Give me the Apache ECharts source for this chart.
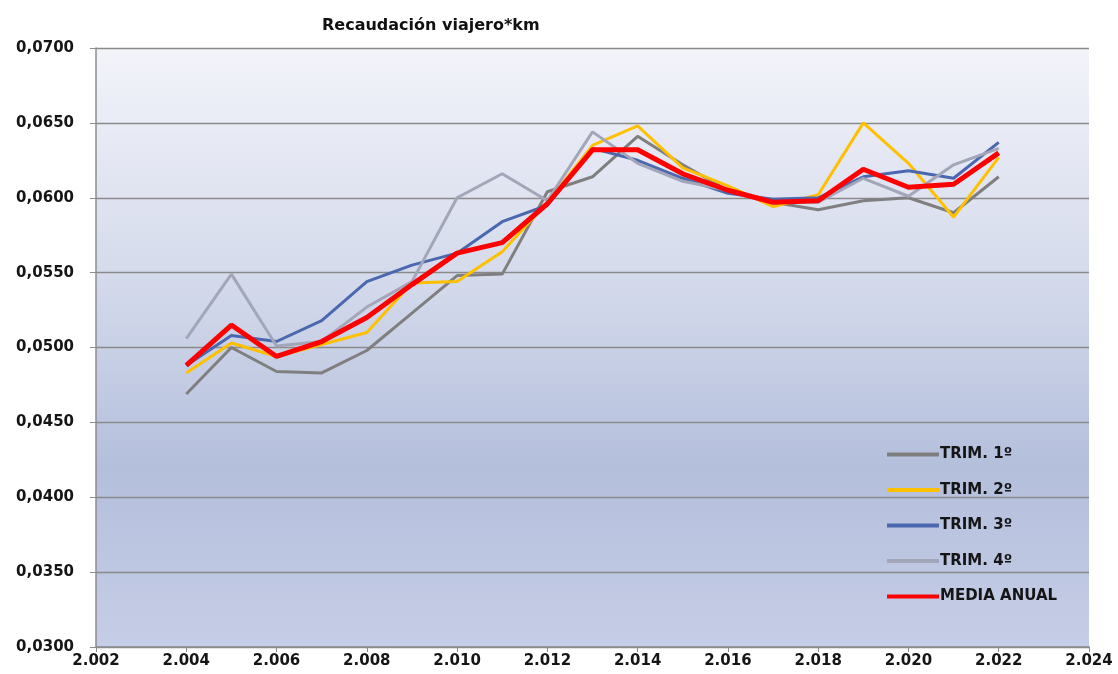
<!DOCTYPE html>
<html>
<head>
<meta charset="UTF-8">
<title>Recaudación viajero*km</title>
<script src="https://cdn.jsdelivr.net/npm/echarts@6/dist/echarts.min.js"></script>
<style>
	html,body{margin:0;padding:0;background:#fff;}
</style>
</head>
<body>
	<div id="main" style="width:1118px;height:674px;"></div>
	<script type="text/javascript">
		// datos
		var years = [2004,2005,2006,2007,2008,2009,2010,2011,2012,2013,2014,2015,2016,2017,2018,2019,2020,2021,2022];
		var trim1 = [0.0469,0.0500,0.0484,0.0483,0.0498,0.0523,0.0548,0.0549,0.0604,0.0614,0.0641,0.0622,0.0605,0.0597,0.0592,0.0598,0.0600,0.0590,0.0614];
		var trim2 = [0.0483,0.0503,0.0494,0.0502,0.0510,0.0543,0.0544,0.0564,0.0597,0.0635,0.0648,0.0620,0.0608,0.0594,0.0602,0.0650,0.0623,0.0587,0.0627];
		var trim3 = [0.0488,0.0508,0.0504,0.0518,0.0544,0.0555,0.0563,0.0584,0.0595,0.0633,0.0625,0.0613,0.0603,0.0599,0.0600,0.0614,0.0618,0.0613,0.0637];
		var trim4 = [0.0506,0.0549,0.0501,0.0504,0.0527,0.0544,0.0600,0.0616,0.0598,0.0644,0.0623,0.0611,0.0605,0.0597,0.0597,0.0613,0.0601,0.0622,0.0633];
		var media = [0.0488,0.0515,0.0494,0.0504,0.0520,0.0542,0.0563,0.0570,0.0596,0.0632,0.0632,0.0616,0.0605,0.0597,0.0598,0.0619,0.0607,0.0609,0.0630];
		var names = ['TRIM. 1º','TRIM. 2º','TRIM. 3º','TRIM. 4º','MEDIA ANUAL'];

		function pairs(vals){
			return years.map(function(y,i){ return [y, vals[i]]; });
		}

		var myChart = echarts.init(document.getElementById('main'));
		var font = 'DejaVu Sans';
		var option = {
			animation:false,
			title:{
				text:'Recaudación viajero*km',
				left:317,
				top:13,
				textStyle:{fontFamily:font,fontSize:16,fontWeight:'bold',color:'#111'}
			},
			legend:{
				orient:'vertical',
				left:882,
				top:442,
				itemWidth:52,
				itemHeight:4,
				itemGap:20.5,
				icon:'rect',
				data:names,
				textStyle:{fontFamily:font,fontSize:15,fontWeight:'bold',color:'#151515',padding:[0,0,0,-4]}
			},
			grid:{
				left:96,
				right:29,
				top:48,
				bottom:27,
				show:true,
				borderWidth:0,
				backgroundColor:new echarts.graphic.LinearGradient(0,0,0,1,[
					{offset:0,color:'#f3f4fa'},
					{offset:0.4,color:'#d3d9eb'},
					{offset:0.7,color:'#b4bfdc'},
					{offset:1,color:'#c6cde6'}
				])
			},
			xAxis:{
				type:'value',
				min:2002,
				max:2024,
				interval:2,
				axisLine:{lineStyle:{color:'#8c8c8c',width:1.5}},
				axisTick:{show:true,length:5,lineStyle:{color:'#8c8c8c'}},
				splitLine:{show:false},
				axisLabel:{
					fontFamily:font,fontSize:15,fontWeight:'bold',color:'#151515',margin:7,
					formatter:function(v){ return String(v).charAt(0)+'.'+String(v).slice(1); }
				}
			},
			yAxis:{
				type:'value',
				min:0.03,
				max:0.07,
				interval:0.005,
				axisLine:{show:true,lineStyle:{color:'#8c8c8c',width:1.5}},
				axisTick:{show:true,length:6,lineStyle:{color:'#8c8c8c'}},
				splitLine:{show:true,lineStyle:{color:'#8a8a8a',width:1.3}},
				axisLabel:{
					fontFamily:font,fontSize:15,fontWeight:'bold',color:'#151515',margin:22,
					formatter:function(v){ return v.toFixed(4).replace('.',','); }
				}
			},
			series:[
				{name:names[0],type:'line',data:pairs(trim1),showSymbol:false,lineStyle:{width:3,color:'#7f7f7f'},itemStyle:{color:'#7f7f7f'}},
				{name:names[1],type:'line',data:pairs(trim2),showSymbol:false,lineStyle:{width:3,color:'#ffc000'},itemStyle:{color:'#ffc000'}},
				{name:names[2],type:'line',data:pairs(trim3),showSymbol:false,lineStyle:{width:3,color:'#4a68b0'},itemStyle:{color:'#4a68b0'}},
				{name:names[3],type:'line',data:pairs(trim4),showSymbol:false,lineStyle:{width:3,color:'#a3a6b8'},itemStyle:{color:'#a3a6b8'}},
				{name:names[4],type:'line',data:pairs(media),showSymbol:false,lineStyle:{width:5,color:'#ff0000'},itemStyle:{color:'#ff0000'}}
			]
		};
		myChart.setOption(option);
	</script>
</body>
</html>
